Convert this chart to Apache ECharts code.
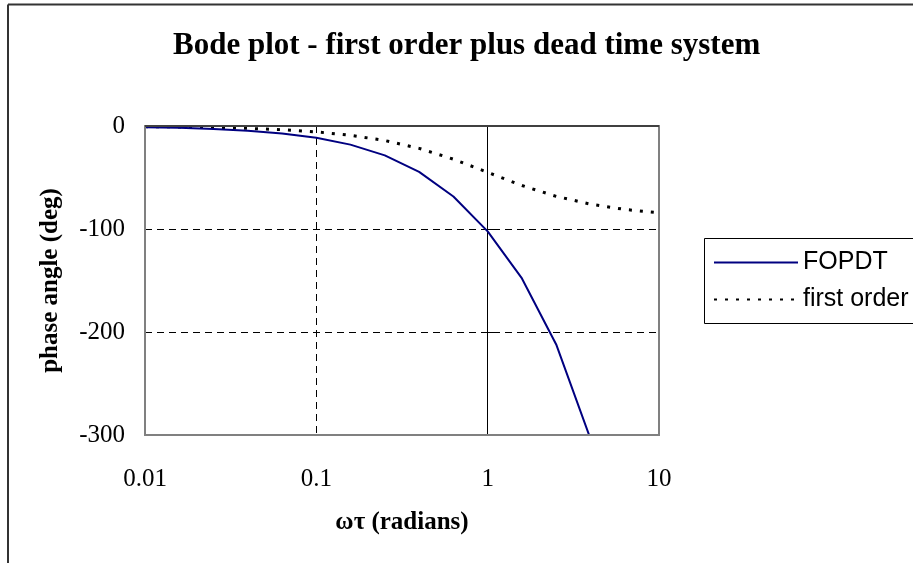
<!DOCTYPE html>
<html>
<head>
<meta charset="utf-8">
<script src="https://cdn.jsdelivr.net/npm/echarts@6/dist/echarts.min.js"></script>
<style>
html,body{margin:0;padding:0;background:#fff;}
#chart{width:913px;height:563px;}
</style>
</head>
<body>
<div id="chart"></div>
<script>
var titleText = 'Bode plot - first order plus dead time system';
var xAxisTitle = '\u03c9\u03c4 (radians)';
var yAxisTitle = 'phase angle (deg)';
var seriesNames = ['FOPDT', 'first order'];
var freq = [0.01, 0.0158, 0.0251, 0.0398, 0.0631, 0.1, 0.158, 0.251, 0.398, 0.631, 1, 1.585, 2.512, 3.981, 6.31, 10];
var fopdt = [-1.2, -1.8, -2.9, -4.6, -7.2, -11.4, -18.1, -28.5, -44.6, -68.4, -102.3, -148.0, -212.1, -303.7];
var firstOrder = [-0.6, -0.9, -1.4, -2.3, -3.6, -5.7, -9.0, -14.1, -21.7, -32.2, -45.0, -57.8, -68.3, -75.9, -81.0, -84.3];

function pairs(xs, ys) {
  var out = [];
  for (var i = 0; i < ys.length; i++) out.push([xs[i], ys[i]]);
  return out;
}

var serif = "'Liberation Serif','Times New Roman',serif";
var sans = "'Liberation Sans',Arial,sans-serif";
var GL = 145, GR = 659, GT = 126, GB = 435;

var chart = echarts.init(document.getElementById('chart'), null, {renderer: 'canvas'});
chart.setOption({
  backgroundColor: '#ffffff',
  animation: false,
  title: {
    text: titleText,
    left: 173, top: 30, padding: 0,
    textStyle: {fontFamily: serif, fontWeight: 'bold', fontSize: 31, color: '#000'}
  },
  legend: {
    orient: 'vertical',
    left: 713, top: 250,
    padding: 0,
    itemWidth: 84, itemHeight: 20, itemGap: 12,
    itemStyle: {opacity: 0},
    textStyle: {fontFamily: sans, fontSize: 25, color: '#000'},
    data: seriesNames
  },
  grid: {
    left: GL, right: 913 - GR, top: GT, bottom: 563 - GB,
    show: true, borderColor: '#808080', borderWidth: 2
  },
  xAxis: {
    type: 'log', logBase: 10, min: 0.01, max: 10,
    axisLine: {show: false},
    axisTick: {show: false},
    axisLabel: {fontFamily: serif, fontSize: 25, color: '#000', margin: 32},
    splitLine: {show: true, lineStyle: {color: '#000', width: 1, type: [7, 5]}},
    minorSplitLine: {show: false}
  },
  yAxis: [{
    type: 'value', min: -300, max: 0, interval: 100,
    axisLine: {show: false},
    axisTick: {show: false},
    axisLabel: {fontFamily: serif, fontSize: 25, color: '#000', margin: 20},
    splitLine: {show: true, lineStyle: {color: '#000', width: 1, type: [7, 5]}},
    name: yAxisTitle, nameLocation: 'middle', nameGap: 82,
    nameTextStyle: {fontFamily: serif, fontWeight: 'bold', fontSize: 25, color: '#000'}
  }, {
    type: 'value', min: -300, max: 0, interval: 100,
    position: 'right', offset: -(GR - GL) / 3,
    axisLine: {show: true, lineStyle: {color: '#000', width: 1}},
    axisTick: {show: true, inside: false, length: 6, lineStyle: {color: '#000'}},
    axisLabel: {show: false},
    splitLine: {show: false}
  }],
  graphic: [
    {type: 'line', shape: {x1: 8, y1: 4.5, x2: 913, y2: 4.5}, style: {stroke: '#333', lineWidth: 2}},
    {type: 'line', shape: {x1: 8, y1: 4.5, x2: 8, y2: 563}, style: {stroke: '#333', lineWidth: 2}},
    {type: 'line', z: 50, shape: {x1: GL, y1: GT, x2: GL, y2: GB + 1}, style: {stroke: '#808080', lineWidth: 2}},
    {type: 'line', z: 50, shape: {x1: GR, y1: GT, x2: GR, y2: GB + 1}, style: {stroke: '#808080', lineWidth: 2}},
    {type: 'line', z: 50, shape: {x1: GL, y1: GB, x2: GR, y2: GB}, style: {stroke: '#808080', lineWidth: 2}},
    {type: 'line', z: 50, shape: {x1: GL, y1: GT, x2: GR, y2: GT}, style: {stroke: '#404040', lineWidth: 2}},
    {type: 'rect', shape: {x: 704.5, y: 238.5, width: 220, height: 85}, style: {fill: 'none', stroke: '#000', lineWidth: 1}},
    {type: 'text', x: 402, y: 510, style: {text: xAxisTitle, fontFamily: serif, fontWeight: 'bold', fontSize: 25, fill: '#000', textAlign: 'center', textVerticalAlign: 'top'}}
  ],
  series: [{
    name: seriesNames[0], type: 'line', xAxisIndex: 0, yAxisIndex: 0,
    data: pairs(freq, fopdt),
    symbol: 'none', showSymbol: false, clip: true,
    lineStyle: {color: '#000080', width: 2},
    itemStyle: {color: '#000080'},
    z: 5
  }, {
    name: seriesNames[1], type: 'line', xAxisIndex: 0, yAxisIndex: 0,
    data: pairs(freq, firstOrder),
    symbol: 'none', showSymbol: false, clip: true,
    lineStyle: {color: '#000', width: 3, type: [3, 8]},
    itemStyle: {color: '#000'},
    z: 4
  }]
});
</script>
</body>
</html>
